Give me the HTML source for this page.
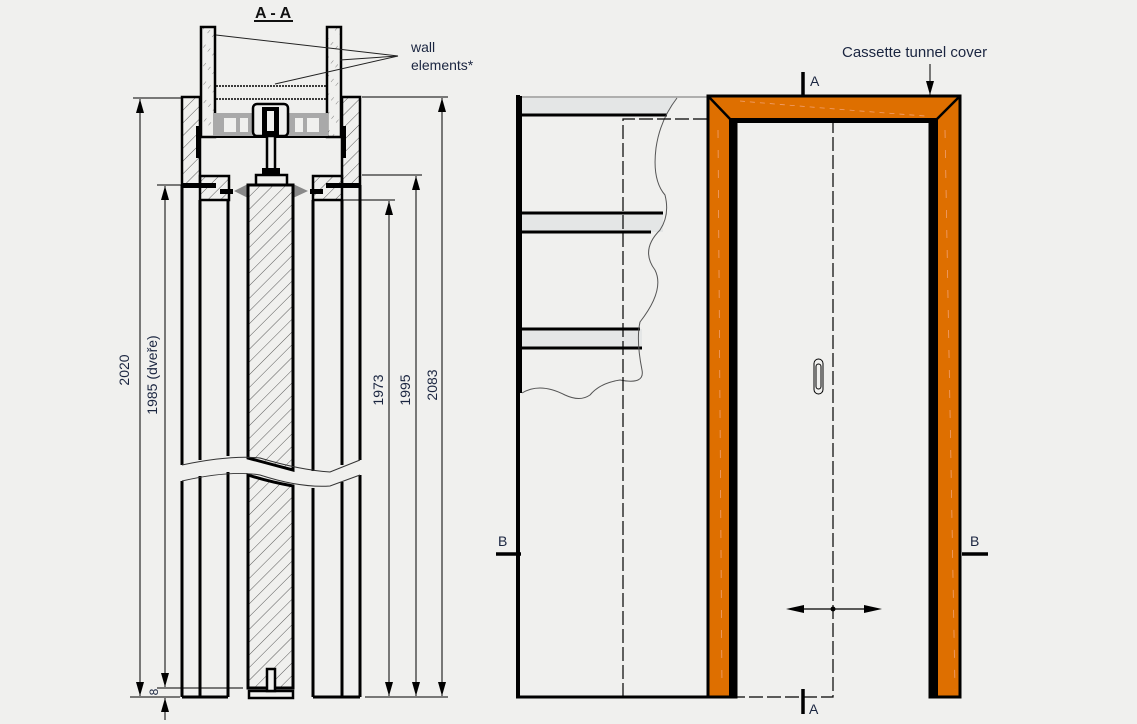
<!DOCTYPE html>
<html><head><meta charset="utf-8"><style>
html,body{margin:0;padding:0;background:#f0f0ee;}
svg{display:block;}
text{font-family:"Liberation Sans",sans-serif;fill:#1a2540;}
</style></head><body>
<svg width="1137" height="724" viewBox="0 0 1137 724" xmlns="http://www.w3.org/2000/svg">
<defs>
<pattern id="h" width="9" height="9" patternUnits="userSpaceOnUse" patternTransform="rotate(45)">
<line x1="0" y1="0" x2="0" y2="9" stroke="#333" stroke-width="0.8"/>
</pattern>
<pattern id="d" width="6" height="14" patternUnits="userSpaceOnUse" patternTransform="rotate(40)">
<line x1="0" y1="0" x2="0" y2="4" stroke="#666" stroke-width="0.8"/>
</pattern>
<marker id="ar" markerWidth="14" markerHeight="8" refX="14" refY="4" orient="auto-start-reverse" markerUnits="userSpaceOnUse" viewBox="0 0 14 8">
<path d="M0,0 L14,4 L0,8 Z" fill="#000"/>
</marker>
</defs>
<rect width="1137" height="724" fill="#f0f0ee"/>

<!-- ===== LEFT: SECTION A-A ===== -->
<text x="255" y="18" font-size="16" font-weight="bold" style="fill:#111">A - A</text>
<line x1="254" y1="21" x2="293" y2="21" stroke="#111" stroke-width="2"/>

<rect x="201" y="27" width="14" height="110" fill="url(#d)" stroke="#000" stroke-width="2.5"/>
<rect x="327" y="27" width="14" height="110" fill="url(#d)" stroke="#000" stroke-width="2.5"/>
<line x1="216" y1="86" x2="326" y2="86" stroke="#000" stroke-width="1.5" stroke-dasharray="2,1"/>
<line x1="216" y1="99" x2="326" y2="99" stroke="#000" stroke-width="1.5" stroke-dasharray="2,1"/>
<g stroke="#222" stroke-width="1">
<line x1="216" y1="35" x2="398" y2="56"/>
<line x1="340" y1="60" x2="398" y2="56"/>
<line x1="275" y1="84" x2="398" y2="56"/>
</g>
<text x="411" y="52" font-size="14">wall</text>
<text x="411" y="70" font-size="14">elements*</text>

<path d="M182,97 L200,97 L200,185 L182,185 Z" fill="url(#h)" stroke="#000" stroke-width="2.5"/>
<path d="M342,97 L360,97 L360,185 L342,185 Z" fill="url(#h)" stroke="#000" stroke-width="2.5"/>
<path d="M196,126 L200,126 L200,158 L196,158 Z" fill="#000"/>
<path d="M342,126 L346,126 L346,158 L342,158 Z" fill="#000"/>
<line x1="215" y1="137" x2="327" y2="137" stroke="#000" stroke-width="2"/>
<rect x="213" y="113" width="115" height="23" fill="#a9a9a9"/>
<rect x="224" y="118" width="12" height="14" fill="#f0f0ee"/>
<rect x="240" y="118" width="8" height="14" fill="#f0f0ee"/>
<rect x="295" y="118" width="8" height="14" fill="#f0f0ee"/>
<rect x="307" y="118" width="12" height="14" fill="#f0f0ee"/>
<rect x="253" y="104" width="35" height="32" rx="4" fill="#f0f0ee" stroke="#000" stroke-width="2.5"/>
<rect x="262" y="107" width="17" height="28" fill="#000"/>
<rect x="267" y="111" width="7" height="20" fill="#f0f0ee"/>
<rect x="267" y="136" width="8" height="34" fill="#f0f0ee" stroke="#000" stroke-width="2.5"/>
<rect x="262" y="168" width="18" height="7" fill="#000"/>
<rect x="256" y="175" width="31" height="10" fill="#f0f0ee" stroke="#000" stroke-width="2.5"/>

<rect x="200" y="176" width="29" height="24" fill="url(#h)" stroke="#000" stroke-width="2.5"/>
<rect x="313" y="176" width="29" height="24" fill="url(#h)" stroke="#000" stroke-width="2.5"/>
<rect x="182" y="183" width="34" height="5" fill="#000"/>
<rect x="326" y="183" width="34" height="5" fill="#000"/>
<rect x="220" y="189" width="13" height="5" fill="#000"/>
<rect x="310" y="189" width="13" height="5" fill="#000"/>
<path d="M234,191 L248,184 L248,198 Z" fill="#888"/>
<path d="M308,191 L293,184 L293,198 Z" fill="#888"/>

<g stroke="#000" stroke-width="3">
<line x1="182" y1="185" x2="182" y2="465"/>
<line x1="200" y1="200" x2="200" y2="460"/>
<line x1="228" y1="200" x2="228" y2="456"/>
<line x1="313" y1="200" x2="313" y2="471"/>
<line x1="342" y1="200" x2="342" y2="465"/>
<line x1="360" y1="185" x2="360" y2="460"/>
<line x1="182" y1="481" x2="182" y2="697"/>
<line x1="200" y1="476" x2="200" y2="697"/>
<line x1="228" y1="472" x2="228" y2="697"/>
<line x1="313" y1="488" x2="313" y2="697"/>
<line x1="342" y1="482" x2="342" y2="697"/>
<line x1="360" y1="475" x2="360" y2="697"/>
<line x1="182" y1="697" x2="228" y2="697"/>
<line x1="313" y1="697" x2="360" y2="697"/>
</g>
<path d="M248,185 L293,185 L293,470 Q270,464 248,458 Z" fill="url(#h)" stroke="#000" stroke-width="3"/>
<path d="M248,475 Q270,482 293,486 L293,688 L248,688 Z" fill="url(#h)" stroke="#000" stroke-width="3"/>
<rect x="249" y="691" width="44" height="7" fill="#f0f0ee" stroke="#000" stroke-width="2.5"/>
<rect x="267" y="669" width="8" height="22" fill="#f0f0ee" stroke="#000" stroke-width="2.5"/>
<path d="M182,465 Q230,455 260,458 Q300,470 330,472 L360,460" fill="none" stroke="#333" stroke-width="1"/>
<path d="M182,481 Q230,470 260,475 Q300,488 330,486 L360,475" fill="none" stroke="#333" stroke-width="1"/>

<g stroke="#000" stroke-width="1">
<line x1="133" y1="98" x2="182" y2="98"/>
<line x1="130" y1="697" x2="180" y2="697"/>
<line x1="157" y1="185" x2="182" y2="185"/>
<line x1="157" y1="688" x2="243" y2="688"/>
<line x1="362" y1="97" x2="448" y2="97"/>
<line x1="362" y1="175" x2="422" y2="175"/>
<line x1="330" y1="200" x2="395" y2="200"/>
<line x1="365" y1="697" x2="448" y2="697"/>
<line x1="140" y1="99" x2="140" y2="696" marker-start="url(#ar)" marker-end="url(#ar)"/>
<line x1="165" y1="186" x2="165" y2="687" marker-start="url(#ar)" marker-end="url(#ar)"/>
<line x1="165" y1="720" x2="165" y2="698" marker-end="url(#ar)"/>
<line x1="389" y1="201" x2="389" y2="696" marker-start="url(#ar)" marker-end="url(#ar)"/>
<line x1="416" y1="176" x2="416" y2="696" marker-start="url(#ar)" marker-end="url(#ar)"/>
<line x1="442" y1="98" x2="442" y2="696" marker-start="url(#ar)" marker-end="url(#ar)"/>
</g>
<text transform="translate(129,370) rotate(-90)" font-size="14" text-anchor="middle">2020</text>
<text transform="translate(157,375) rotate(-90)" font-size="14" text-anchor="middle">1985 (dveře)</text>
<text transform="translate(383,390) rotate(-90)" font-size="14" text-anchor="middle">1973</text>
<text transform="translate(410,390) rotate(-90)" font-size="14" text-anchor="middle">1995</text>
<text transform="translate(437,385) rotate(-90)" font-size="14" text-anchor="middle">2083</text>
<text transform="translate(158,692) rotate(-90)" font-size="12" text-anchor="middle">8</text>

<!-- ===== RIGHT: FRONT VIEW ===== -->
<path d="M522,98 L677,98 L667,115 L522,115 Z" fill="#e4e6e6"/>
<rect x="522" y="213" width="141" height="19" fill="#e4e6e6"/>
<rect x="522" y="329" width="120" height="19" fill="#e4e6e6"/>
<line x1="517" y1="97" x2="708" y2="97" stroke="#999" stroke-width="1.5"/>
<g stroke="#000" stroke-width="3">
<line x1="522" y1="115" x2="667" y2="115"/>
<line x1="522" y1="213" x2="663" y2="213"/>
<line x1="522" y1="232" x2="651" y2="232"/>
<line x1="522" y1="329" x2="640" y2="329"/>
<line x1="522" y1="348" x2="642" y2="348"/>
</g>
<path d="M677,98 Q660,120 656,148 Q652,180 665,195 Q670,215 660,230 Q640,250 655,270 Q665,290 640,322 Q636,340 642,370 Q645,385 620,380 Q600,383 590,395 Q580,402 565,395 Q540,382 522,393" fill="none" stroke="#555" stroke-width="1"/>
<line x1="518" y1="95" x2="518" y2="697" stroke="#000" stroke-width="4"/>
<line x1="521" y1="96" x2="521" y2="393" stroke="#000" stroke-width="2"/>
<line x1="516" y1="697" x2="708" y2="697" stroke="#000" stroke-width="3"/>
<g stroke="#000" stroke-width="1.2" stroke-dasharray="14,4" fill="none">
<path d="M623,697 L623,119 L735,119"/>
<path d="M833,119 L833,697 L735,697"/>
</g>
<path d="M708,96 L960,96 L960,697 L930,697 L930,120 L736,120 L736,697 L708,697 Z" fill="#de6f00" stroke="#000" stroke-width="3"/>
<rect x="729" y="118" width="8" height="579" fill="#000"/>
<rect x="930" y="118" width="8" height="579" fill="#000"/>
<rect x="729" y="118" width="209" height="5" fill="#000"/>
<line x1="708" y1="96" x2="731" y2="120" stroke="#000" stroke-width="2.5"/>
<line x1="960" y1="96" x2="936" y2="120" stroke="#000" stroke-width="2.5"/>
<path d="M740,101 Q820,108 925,116" stroke="#f0a070" stroke-width="0.8" stroke-dasharray="5,5" fill="none"/>
<line x1="718" y1="130" x2="722" y2="690" stroke="#f0a070" stroke-width="0.8" stroke-dasharray="8,12"/>
<line x1="945" y1="130" x2="955" y2="690" stroke="#f0a070" stroke-width="0.8" stroke-dasharray="8,12"/>

<rect x="814" y="359" width="9" height="35" rx="4.5" fill="none" stroke="#000" stroke-width="1"/>
<rect x="816" y="364" width="5" height="25" rx="2.5" fill="none" stroke="#000" stroke-width="1"/>
<line x1="800" y1="609" x2="868" y2="609" stroke="#000" stroke-width="1.2"/>
<path d="M786,609 L804,605 L804,613 Z" fill="#000"/>
<path d="M882,609 L864,605 L864,613 Z" fill="#000"/>
<circle cx="833" cy="609" r="2.5" fill="#000"/>

<line x1="803" y1="72" x2="803" y2="97" stroke="#000" stroke-width="3.5"/>
<text x="810" y="86" font-size="14">A</text>
<line x1="803" y1="689" x2="803" y2="714" stroke="#000" stroke-width="3.5"/>
<text x="809" y="714" font-size="14">A</text>
<line x1="496" y1="554" x2="521" y2="554" stroke="#000" stroke-width="3.5"/>
<text x="498" y="546" font-size="14">B</text>
<line x1="962" y1="554" x2="988" y2="554" stroke="#000" stroke-width="3.5"/>
<text x="970" y="546" font-size="14">B</text>

<text x="842" y="57" font-size="15">Cassette tunnel cover</text>
<line x1="930" y1="64" x2="930" y2="95" stroke="#000" stroke-width="1" marker-end="url(#ar)"/>
</svg>
</body></html>
